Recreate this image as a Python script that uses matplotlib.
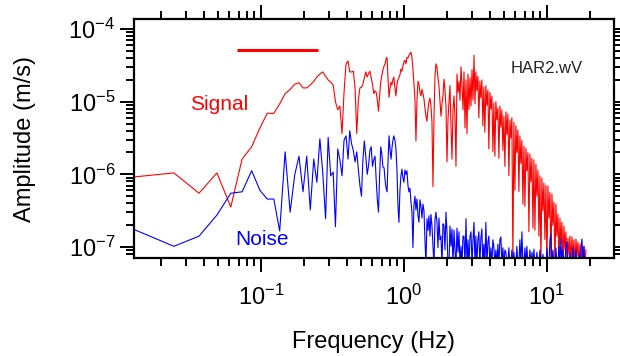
import matplotlib
matplotlib.use("Agg")
import matplotlib.pyplot as plt
import numpy as np
from matplotlib.ticker import LogLocator, NullFormatter

plt.rcParams['font.family'] = ['Liberation Sans', 'DejaVu Sans']
plt.rcParams['mathtext.fontset'] = 'custom'
plt.rcParams['mathtext.rm'] = 'Liberation Sans'

# Data, log10 of frequency [Hz] and amplitude [m/s]
log_freq = [
    -1.910, -1.609, -1.433, -1.308, -1.211, -1.132, -1.065, -1.007, -0.956, -0.910,
    -0.869, -0.831, -0.796, -0.764, -0.734, -0.706, -0.680, -0.655, -0.631, -0.609,
    -0.588, -0.568, -0.548, -0.530, -0.512, -0.495, -0.479, -0.463, -0.448, -0.433,
    -0.419, -0.405, -0.391, -0.379, -0.366, -0.354, -0.342, -0.330, -0.319, -0.308,
    -0.297, -0.287, -0.277, -0.267, -0.257, -0.247, -0.238, -0.229, -0.220, -0.211,
    -0.202, -0.194, -0.186, -0.178, -0.170, -0.162, -0.154, -0.147, -0.139, -0.132,
    -0.125, -0.118, -0.111, -0.104, -0.097, -0.090, -0.084, -0.077, -0.071,
    -0.063, -0.056, -0.049, -0.042, -0.035, -0.028, -0.021, -0.014, -0.007, 0.000,
    0.007, 0.014, 0.021, 0.028, 0.035, 0.042, 0.049, 0.056, 0.063, 0.070,
    0.077, 0.084, 0.091, 0.098, 0.105, 0.112, 0.119, 0.126, 0.133, 0.140,
    0.147, 0.154, 0.161, 0.168, 0.175, 0.182, 0.189, 0.196, 0.203, 0.210,
    0.217, 0.224, 0.231, 0.238, 0.245, 0.252, 0.259, 0.266, 0.273, 0.280,
    0.287, 0.294, 0.301, 0.308, 0.315, 0.322, 0.329, 0.336, 0.343, 0.350,
    0.357, 0.364, 0.371, 0.378, 0.385, 0.392, 0.399, 0.406, 0.413, 0.420,
    0.427, 0.434, 0.441, 0.448, 0.455, 0.462, 0.469, 0.476, 0.483, 0.490,
    0.497, 0.503, 0.510, 0.517, 0.524, 0.531, 0.538, 0.545, 0.552, 0.559,
    0.566, 0.573, 0.580, 0.587, 0.594, 0.601, 0.608, 0.615, 0.622, 0.629,
    0.636, 0.643, 0.650, 0.657, 0.664, 0.671, 0.678, 0.685, 0.692, 0.699,
    0.706, 0.713, 0.720, 0.727, 0.734, 0.741, 0.748, 0.755, 0.762, 0.769,
    0.776, 0.783, 0.790, 0.797, 0.804, 0.811, 0.818, 0.825, 0.832, 0.839,
    0.846, 0.853, 0.860, 0.867, 0.874, 0.881, 0.888, 0.895, 0.902, 0.909,
    0.916, 0.923, 0.930, 0.937, 0.944, 0.951, 0.958, 0.965, 0.972, 0.979,
    0.986, 0.993, 1.000, 1.007, 1.014, 1.021, 1.028, 1.035, 1.042, 1.049,
    1.056, 1.063, 1.070, 1.077, 1.084, 1.091, 1.098, 1.105, 1.112, 1.119,
    1.126, 1.133, 1.140, 1.147, 1.154, 1.161, 1.168, 1.175, 1.182, 1.189,
    1.196, 1.203, 1.210, 1.217, 1.224, 1.231, 1.238, 1.245, 1.252, 1.259,
    1.266, 1.273,
]

signal_log_amp = [
    -6.04, -5.98, -6.26, -5.98, -6.45, -5.79, -5.62, -5.36, -5.16, -5.16,
    -5.03, -4.89, -4.83, -4.76, -4.74, -4.81, -4.81, -4.77, -4.72, -4.66,
    -4.62, -4.59, -4.65, -4.70, -4.73, -4.77, -5.00, -5.11, -5.06, -5.44,
    -4.87, -4.48, -4.44, -4.59, -4.59, -4.58, -4.81, -5.44, -4.98, -4.81,
    -4.80, -4.76, -4.67, -4.59, -4.66, -4.61, -4.58, -4.67, -4.76, -4.89,
    -4.85, -4.87, -4.98, -5.13, -4.91, -4.72, -4.63, -4.56, -4.51, -4.48,
    -4.41, -4.39, -4.70, -4.94, -4.81, -4.73, -4.77, -4.70, -4.66,
    -4.81, -4.92, -4.76, -4.70, -4.67, -4.63, -4.55, -4.58, -4.51, -4.45,
    -4.43, -4.48, -4.39, -4.40, -4.36, -4.34, -4.32, -4.39, -4.55, -4.76,
    -4.96, -5.54, -5.00, -4.72, -4.76, -4.87, -4.92, -4.83, -4.89, -4.96,
    -5.09, -5.20, -5.27, -5.11, -5.00, -4.95, -5.06, -5.28, -6.17, -5.24,
    -4.65, -4.48, -4.52, -4.67, -4.78, -5.00, -5.20, -5.03, -4.92, -4.69,
    -4.83, -5.06, -5.83, -5.25, -5.00, -4.78, -5.33, -5.79, -5.11, -4.92,
    -5.22, -5.89, -4.62, -4.87, -4.72, -4.98, -4.52, -4.78, -5.11, -4.59,
    -5.36, -4.70, -5.44, -4.62, -5.11, -4.67, -5.06, -4.56, -4.98, -4.36,
    -5.03, -4.59, -4.85, -4.65, -5.22, -4.72, -4.95, -4.70, -5.33, -4.80,
    -5.42, -4.78, -5.05, -4.84, -5.65, -4.87, -5.10, -4.92, -5.69, -5.02,
    -5.75, -5.00, -5.25, -5.09, -5.78, -5.06, -5.35, -5.11, -5.67, -5.20,
    -5.89, -5.14, -5.45, -5.17, -6.02, -5.25, -5.50, -5.22, -7.25, -5.28,
    -6.22, -5.33, -5.70, -5.39, -6.24, -5.47, -5.85, -5.53, -6.41, -5.61,
    -6.44, -5.64, -5.95, -5.70, -6.79, -5.72, -6.10, -5.78, -6.74, -5.80,
    -6.77, -5.86, -6.30, -5.94, -6.85, -6.02, -7.25, -6.05, -6.50, -6.12,
    -6.90, -6.15, -7.25, -6.16, -6.60, -6.25, -7.25, -6.27, -6.70, -6.38,
    -7.25, -6.41, -6.85, -6.55, -7.25, -6.60, -6.95, -6.66, -7.25, -6.71,
    -7.04, -6.79, -7.25, -6.88, -7.11, -6.85, -7.25, -6.86, -7.15, -6.90,
    -7.25, -6.89, -7.12, -6.93, -7.25, -6.96, -7.25, -6.99, -7.25, -6.99,
    -7.25, -7.04,
]

noise_log_amp = [
    -6.74, -6.99, -6.85, -6.56, -6.26, -6.24, -5.95, -6.22, -6.34, -6.34,
    -6.78, -5.69, -6.52, -6.01, -5.75, -6.24, -5.75, -6.49, -5.79, -6.11,
    -5.51, -5.97, -6.61, -5.49, -6.02, -5.97, -6.72, -5.65, -5.80, -6.02,
    -5.53, -5.47, -5.79, -5.40, -5.58, -5.67, -5.83, -5.69, -5.93, -6.15,
    -6.30, -5.80, -5.54, -5.75, -6.00, -5.87, -5.67, -5.62, -5.89, -5.80,
    -5.75, -6.08, -6.35, -6.52, -6.01, -5.62, -5.73, -5.90, -5.91, -6.08,
    -6.19, -6.24, -5.80, -5.47, -5.67, -5.79, -5.64, -5.53, -5.47,
    -5.53, -5.65, -5.93, -6.42, -6.66, -6.22, -6.02, -5.93, -6.05, -6.11,
    -5.94, -6.00, -5.95, -6.15, -6.24, -6.19, -6.37, -6.52, -7.01, -6.42,
    -6.30, -6.49, -6.34, -6.56, -6.66, -6.35, -6.44, -6.60, -6.41, -6.50,
    -6.90, -7.25, -6.61, -6.77, -6.57, -6.85, -6.55, -6.71, -6.97, -7.25,
    -6.63, -6.52, -6.66, -7.01, -6.60, -6.90, -6.85, -7.25, -6.68, -6.71,
    -7.04, -6.52, -6.79, -7.25, -7.25, -6.71, -6.99, -6.75, -7.25, -6.77,
    -7.04, -7.25, -6.74, -7.07, -6.79, -7.25, -6.99, -7.25, -6.85, -6.85,
    -7.25, -6.61, -7.25, -6.90, -7.25, -6.85, -6.79, -7.25, -6.90, -6.66,
    -7.25, -6.85, -7.25, -6.90, -6.79, -7.25, -6.88, -6.75, -7.25, -6.96,
    -7.25, -6.66, -7.25, -6.93, -6.85, -7.25, -7.01, -7.25, -6.90, -6.99,
    -7.25, -7.04, -7.25, -6.96, -7.25, -6.90, -6.86, -7.25, -7.01, -7.25,
    -7.04, -7.07, -7.25, -7.25, -7.01, -7.25, -7.25, -7.04, -7.25, -7.07,
    -7.25, -7.25, -6.99, -7.25, -7.25, -6.90, -7.25, -6.79, -7.25, -7.25,
    -7.01, -7.25, -6.99, -7.25, -7.25, -7.04, -7.25, -7.07, -7.25, -7.03,
    -7.25, -7.25, -7.07, -7.25, -7.25, -7.04, -7.25, -7.25, -7.10, -7.25,
    -7.25, -7.25, -7.01, -7.25, -7.25, -6.90, -6.82, -7.25, -7.04, -7.25,
    -7.25, -7.01, -7.25, -7.25, -6.99, -7.25, -6.89, -7.25, -7.04, -7.25,
    -7.25, -6.96, -6.93, -7.25, -7.25, -7.07, -7.25, -7.25, -7.01, -7.25,
    -7.25, -7.04, -7.25, -7.25, -7.10, -7.25, -7.01, -6.89, -7.25, -6.99,
    -7.25, -7.25,
]

# signal window marker
window_log_freq = [-1.168, -0.601]
window_log_amp = [-4.29, -4.29]

freq = 10 ** np.array(log_freq)
signal = 10 ** np.array(signal_log_amp)
noise = 10 ** np.array(noise_log_amp)

fig = plt.figure(figsize=(6.2, 3.56), dpi=100)
ax = fig.add_axes([0.2161, 0.2753, 0.7742, 0.6713])

ax.plot(freq, signal, color="#ff0000", lw=0.8)
ax.plot(freq, noise, color="#0000ff", lw=0.8)
ax.plot(10 ** np.array(window_log_freq), 10 ** np.array(window_log_amp),
        color="#ff0000", lw=2.2, solid_capstyle="butt")

ax.set_xscale("log")
ax.set_yscale("log")
ax.set_xlim(10 ** -1.888, 10 ** 1.469)
ax.set_ylim(10 ** -7.151, 10 ** -3.862)

for a in (ax.xaxis, ax.yaxis):
    a.set_major_locator(LogLocator(base=10, numticks=20))
    a.set_minor_locator(LogLocator(base=10, subs=np.arange(2, 10), numticks=20))
    a.set_minor_formatter(NullFormatter())

ax.tick_params(which="both", direction="out", top=True, right=True, width=1.4)
ax.tick_params(which="major", length=10, labelsize=17)
ax.tick_params(which="minor", length=5.5)
ax.tick_params(axis="x", which="major", pad=9)
ax.tick_params(axis="y", which="major", pad=3.5)
for s in ax.spines.values():
    s.set_linewidth(1.6)

ax.set_xlabel("Frequency (Hz)", fontsize=17)
ax.set_ylabel("Amplitude (m/s)", fontsize=17)
ax.xaxis.set_label_coords(0.5, -0.305)
ax.yaxis.set_label_coords(-0.205, 0.5)

ax.text(0.117, 0.619, "Signal", color="#ff0000", fontsize=15,
        transform=ax.transAxes, va="baseline")
ax.text(0.210, 0.054, "Noise", color="#0000ff", fontsize=15,
        transform=ax.transAxes, va="baseline")
ax.text(0.785, 0.774, "HAR2.wV", color="#222222", fontsize=12,
        transform=ax.transAxes, va="baseline")

fig.savefig("out.png", dpi=100)
